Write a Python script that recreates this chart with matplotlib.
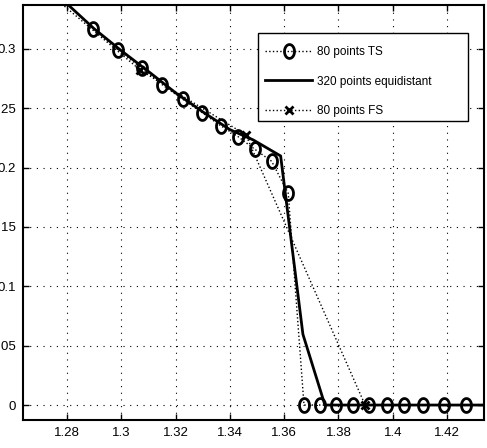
import numpy as np
import matplotlib
matplotlib.use("Agg")
import matplotlib.pyplot as plt
from matplotlib.path import Path
from matplotlib.patches import Rectangle

plt.rcParams['font.family'] = ['Liberation Sans', 'DejaVu Sans']

# 80 points TS (circles, dotted)
ts_x = [1.2897, 1.2989, 1.3075, 1.3152, 1.3226, 1.3298, 1.3366, 1.3430,
        1.3492, 1.3554, 1.3615, 1.3673, 1.3732, 1.3792, 1.3852, 1.3913,
        1.3977, 1.4042, 1.4111, 1.4187, 1.4268, 1.4420]
ts_y = [0.3169, 0.2992, 0.2837, 0.2696, 0.2576, 0.2463, 0.2353, 0.2261,
        0.2154, 0.2053, 0.1783, 0.0, 0.0, 0.0, 0.0, 0.0,
        0.0, 0.0, 0.0, 0.0, 0.0, 0.0]

# 320 points equidistant (solid)
eq_x = [1.2700, 1.2805, 1.2900, 1.3000, 1.3100, 1.3200, 1.3300, 1.3400,
        1.3486, 1.3587, 1.3669, 1.3750, 1.4400]
eq_y = [0.3560, 0.3370, 0.3170, 0.2985, 0.2810, 0.2630, 0.2470, 0.2320,
        0.2233, 0.2098, 0.0596, 0.0, 0.0]

# 80 points FS (crosses, dotted)
fs_x = [1.2677, 1.3069, 1.3459, 1.3898, 1.4400]
fs_y = [0.3580, 0.2823, 0.2275, 0.0, 0.0]

# slightly tall oval marker, like the stretched circles in the original
t = np.linspace(0, 2 * np.pi, 40)
oval = Path(np.column_stack([0.72 * np.cos(t), np.sin(t)]), closed=True)

fig = plt.figure(figsize=(4.87, 4.48), dpi=100)
ax = fig.add_axes([0.047, 0.0625, 0.947, 0.9265])

ax.plot(ts_x, ts_y, ':', color='black', lw=1.0, marker=oval, ms=10,
        mfc='none', mec='black', mew=2, label='80 points TS')
ax.plot(eq_x, eq_y, '-', color='black', lw=2, label='320 points equidistant')
ax.plot(fs_x, fs_y, ':', color='black', lw=1.0, marker='x', ms=6,
        mew=2, label='80 points FS')

ax.set_xlim(1.2638, 1.4336)
ax.set_ylim(-0.0126, 0.337)
ax.set_xticks([1.28, 1.30, 1.32, 1.34, 1.36, 1.38, 1.40, 1.42])
ax.set_xticklabels(['1.28', '1.3', '1.32', '1.34', '1.36', '1.38', '1.4', '1.42'])
ax.set_yticks([0, 0.05, 0.1, 0.15, 0.2, 0.25, 0.3])
ax.set_yticklabels(['0', '0.05', '0.1', '0.15', '0.2', '0.25', '0.3'])
ax.tick_params(direction='in', top=True, right=True, length=4, width=1,
               labelsize=9.5, pad=5)
ax.grid(True, linestyle=(0, (1, 5)), color='black', lw=0.8)
for s in ax.spines.values():
    s.set_linewidth(1.5)

# legend box drawn separately (text sits left in the box, like matlab)
ax.add_patch(Rectangle((0.510, 0.7205), 0.455, 0.212, transform=ax.transAxes,
                       facecolor='white', edgecolor='black', lw=1.0, zorder=4))
leg = ax.legend(loc='upper left', bbox_to_anchor=(0.525, 0.900), fontsize=8.5,
                frameon=False, handlelength=4.0, handletextpad=0.4,
                labelspacing=1.45, borderpad=0, borderaxespad=0)
leg.set_zorder(5)

fig.savefig('out.png', dpi=100)
